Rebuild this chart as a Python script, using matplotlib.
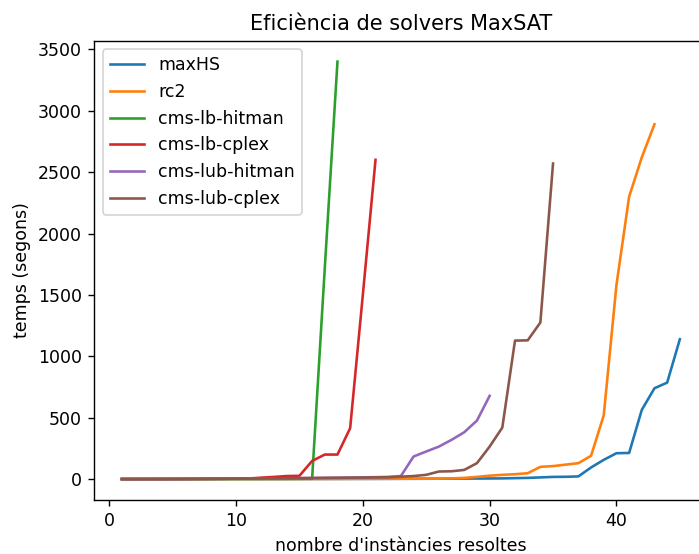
import matplotlib
matplotlib.use('Agg')
import matplotlib.pyplot as plt

# sorted solve times (s) per solver, cactus-plot style
maxhs = [0.1, 0.1, 0.2, 0.2, 0.3, 0.3, 0.4, 0.5, 0.5, 0.6,
         0.7, 0.8, 0.9, 1.0, 1.1, 1.2, 1.4, 1.5, 1.7, 1.9,
         2.1, 2.3, 2.6, 2.9, 3.2, 3.5, 3.9, 4.3, 4.8, 5.3,
         6, 8, 10, 14, 18, 19, 22,
         95, 157, 211, 213, 564, 740, 786, 1139]
rc2 = [0.1, 0.1, 0.2, 0.2, 0.3, 0.3, 0.4, 0.5, 0.6, 0.7,
       0.8, 0.9, 1.0, 1.1, 1.3, 1.5, 1.7, 1.9, 2.1, 2.3,
       2.5, 2.7, 3.0, 3.3, 3.6,
       4, 6, 10, 18, 28, 35, 40, 48, 100, 106, 118, 130, 190,
       520, 1580, 2300, 2620, 2890]
cms_lb_hitman = [0.5, 0.6, 0.7, 0.8, 0.9, 1.0, 1.1, 1.2, 1.3, 1.4,
                 1.5, 1.6, 1.8, 2.0, 2.5, 3, 1720, 3400]
cms_lb_cplex = [0.5, 0.6, 0.8, 1.0, 1.2, 1.5, 2, 2.5, 3, 4,
                5, 12, 18, 25, 27, 148, 200, 200, 415, 1500, 2600]
cms_lub_hitman = [0.5, 0.6, 0.8, 1.0, 1.2, 1.5, 2, 2.5, 3, 3.5,
                  4, 5, 6, 7, 8, 9, 10, 11, 12, 14, 16, 18,
                  25, 184, 225, 265, 320, 382, 477, 678]
cms_lub_cplex = [0.5, 0.6, 0.8, 1.0, 1.2, 1.5, 2, 2.5, 3, 3.5,
                 4, 5, 6, 7, 8, 9, 10, 11, 12, 13, 14,
                 15, 20, 25, 35, 62, 64, 75, 130, 265, 420,
                 1128, 1130, 1275, 2570]

series = [
    ('maxHS', maxhs),
    ('rc2', rc2),
    ('cms-lb-hitman', cms_lb_hitman),
    ('cms-lb-cplex', cms_lb_cplex),
    ('cms-lub-hitman', cms_lub_hitman),
    ('cms-lub-cplex', cms_lub_cplex),
]

# reference looks like a default figure rendered at ~125 dpi
fig = plt.figure(figsize=(699 / 125, 554 / 125), dpi=125)
ax = fig.add_axes([0.1345, 0.0975, 0.878, 0.829])

for name, times in series:
    ax.plot(range(1, len(times) + 1), times, label=name)

ax.set_title('Eficiència de solvers MaxSAT')
ax.set_xlabel("nombre d'instàncies resoltes")
ax.set_ylabel('temps (segons)')
ax.legend(loc='upper left')

fig.savefig('out.png', dpi=125)
